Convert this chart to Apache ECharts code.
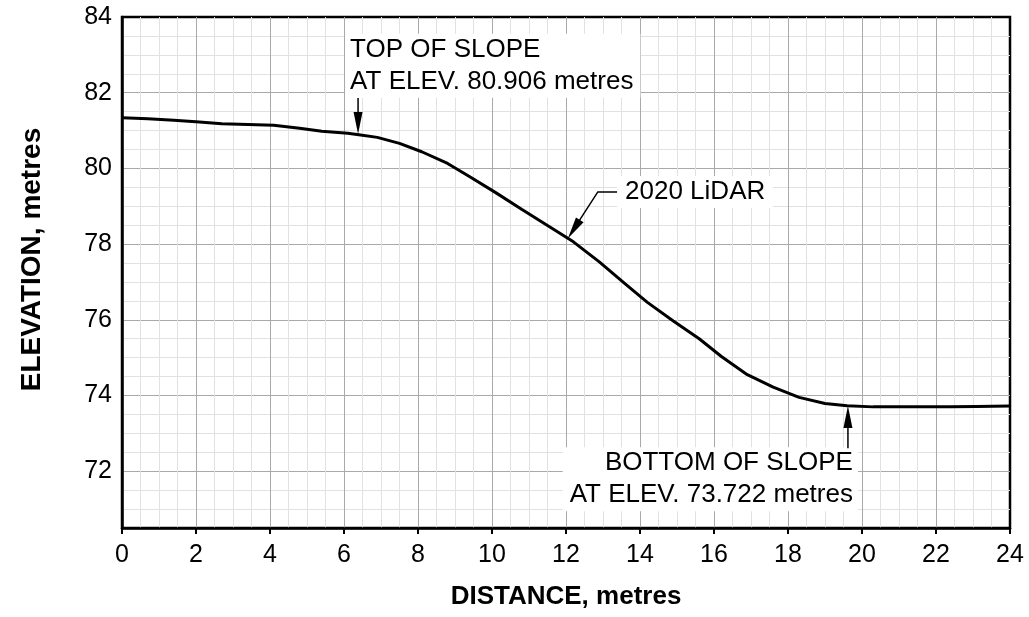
<!DOCTYPE html>
<html><head><meta charset="utf-8">
<script src="https://cdn.jsdelivr.net/npm/echarts@6/dist/echarts.min.js"></script>
<style>html,body{margin:0;padding:0;background:#fff}#c{width:1029px;height:617px}</style>
</head><body><div id="c"></div>
<script>
// ---- data ----
const distance  = [0, 0.7, 1.4, 2.0, 2.7, 3.4, 4.1, 4.8, 5.4, 6.1, 6.4, 6.9, 7.5, 8.1, 8.8, 9.4, 10.1, 10.8, 11.5, 12.2, 12.9, 13.6, 14.2, 14.9, 15.6, 16.2, 16.9, 17.6, 18.3, 19.0, 19.6, 20.3, 21.0, 21.7, 22.4, 23.1, 24.0];
const elevation = [81.34, 81.31, 81.27, 81.23, 81.18, 81.16, 81.14, 81.06, 80.98, 80.93, 80.89, 80.82, 80.66, 80.44, 80.13, 79.78, 79.36, 78.92, 78.49, 78.06, 77.53, 76.95, 76.46, 75.97, 75.50, 75.03, 74.55, 74.22, 73.95, 73.79, 73.73, 73.70, 73.70, 73.70, 73.70, 73.71, 73.72];
const xTickLabels = [0, 2, 4, 6, 8, 10, 12, 14, 16, 18, 20, 22, 24];
const yTickLabels = [72, 74, 76, 78, 80, 82, 84];
const seriesName = '2020 LiDAR';
const topNoteText = ['TOP OF SLOPE', 'AT ELEV. 80.906 metres'];
const bottomNoteText = ['BOTTOM OF SLOPE', 'AT ELEV. 73.722 metres'];
const xTitle = 'DISTANCE, metres';
const yTitle = 'ELEVATION, metres';

// annotation anchors (data units)
const topOfSlope = [6.38, 80.906];
const bottomOfSlope = [19.62, 73.722];
const lidarTip = [12.05, 78.15];

const FONT = '"Liberation Sans", Arial, sans-serif';
const MAJOR = '#a9a9a9', MINOR = '#e1e1e1';

const chart = echarts.init(document.getElementById('c'), null, {renderer: 'canvas'});
const data = distance.map((d, i) => [d, elevation[i]]);

chart.setOption({
  animation: false,
  backgroundColor: '#fff',
  grid: {left: 122, right: 19, top: 17, bottom: 89, show: true, borderColor: '#000', borderWidth: 2.5, backgroundColor: 'transparent'},
  xAxis: {
    type: 'value', min: 0, max: 24, interval: 2,
    name: xTitle, nameLocation: 'middle', nameGap: 56,
    nameTextStyle: {fontFamily: FONT, fontSize: 26, fontWeight: 'bold', color: '#000'},
    axisLine: {show: true, lineStyle: {color: '#000', width: 2.5}},
    axisTick: {show: true, inside: false, length: 6, lineStyle: {color: '#000', width: 2}},
    axisLabel: {fontFamily: FONT, fontSize: 25, color: '#000', margin: 15,
      formatter: v => xTickLabels.includes(v) ? String(v) : ''},
    splitLine: {show: true, showMaxLine: false, showMinLine: false, lineStyle: {color: MAJOR, width: 1}},
    minorTick: {show: false, splitNumber: 4},
    minorSplitLine: {show: true, lineStyle: {color: MINOR, width: 1}}
  },
  yAxis: {
    type: 'value', min: 70.5, max: 84, interval: 0.5,
    name: yTitle, nameLocation: 'middle', nameGap: 76, nameRotate: 90,
    nameTextStyle: {fontFamily: FONT, fontSize: 28, fontWeight: 'bold', color: '#000', padding: [0, 0, 0, 26]},
    axisLine: {show: true, lineStyle: {color: '#000', width: 2.5}},
    axisTick: {show: false},
    axisLabel: {fontFamily: FONT, fontSize: 25, color: '#000', margin: 10,
      formatter: v => yTickLabels.includes(v) ? String(v) : ''},
    splitLine: {show: true, showMaxLine: false, lineStyle: {color: [MINOR, MINOR, MINOR, MAJOR], width: 1}}
  },
  series: [{
    name: seriesName, type: 'line', data: data, showSymbol: false, smooth: false,
    lineStyle: {color: '#000', width: 3}, z: 5
  }]
});

// ---- annotations built from data coordinates ----
function px(p) { return chart.convertToPixel({gridIndex: 0}, p); }
function arrowHead(tip, from, len, half) {
  const dx = tip[0] - from[0], dy = tip[1] - from[1];
  const L = Math.hypot(dx, dy); const ux = dx / L, uy = dy / L;
  const bx = tip[0] - ux * len, by = tip[1] - uy * len;
  return {type: 'polygon', z: 20, shape: {points: [tip, [bx - uy * half, by + ux * half], [bx + uy * half, by - ux * half]]}, style: {fill: '#000'}};
}
const g = [];
const txtStyle = {fontFamily: FONT, fontSize: 26, fill: '#000', lineHeight: 32, backgroundColor: '#fff'};

// top of slope
const tTip = px(topOfSlope);
const tTxt = px([6.03, 82.71]);
g.push({type: 'text', z: 15, x: tTxt[0], y: tTxt[1], style: Object.assign({}, txtStyle, {text: topNoteText.join('\n'), align: 'left', verticalAlign: 'middle', padding: [0, 7, 0, 5]})});
const tFrom = px([topOfSlope[0], 81.86]);
g.push({type: 'line', z: 20, shape: {x1: tFrom[0], y1: tFrom[1], x2: tTip[0], y2: tTip[1] - 10}, style: {stroke: '#000', lineWidth: 1.5}});
g.push(arrowHead(tTip, tFrom, 22, 4.5));

// 2020 LiDAR leader
const lTip = px(lidarTip);
const lTxt = px([13.38, 79.38]);
const lStart = px([13.38, 79.38]);
const lBend = px([12.86, 79.38]);
g.push({type: 'text', z: 15, x: lTxt[0], y: lTxt[1], style: Object.assign({}, txtStyle, {text: seriesName, align: 'left', verticalAlign: 'middle', padding: [0, 8, 0, 8]})});
g.push({type: 'polyline', z: 20, shape: {points: [lStart, lBend, [lTip[0] + (lBend[0] - lTip[0]) * 0.3, lTip[1] + (lBend[1] - lTip[1]) * 0.3]]}, style: {stroke: '#000', lineWidth: 1.5, fill: null}});
g.push(arrowHead(lTip, lBend, 22, 4.5));

// bottom of slope
const bTip = px(bottomOfSlope);
const bTxt = px([19.89, 71.79]);
g.push({type: 'text', z: 15, x: bTxt[0], y: bTxt[1], style: Object.assign({}, txtStyle, {text: bottomNoteText.join('\n'), align: 'right', verticalAlign: 'middle', padding: [0, 5, 0, 7]})});
const bFrom = px([bottomOfSlope[0], 72.61]);
g.push({type: 'line', z: 20, shape: {x1: bFrom[0], y1: bFrom[1], x2: bTip[0], y2: bTip[1] + 10}, style: {stroke: '#000', lineWidth: 1.5}});
g.push(arrowHead(bTip, bFrom, 22, 4.5));

chart.setOption({graphic: g});
</script>
</body></html>
